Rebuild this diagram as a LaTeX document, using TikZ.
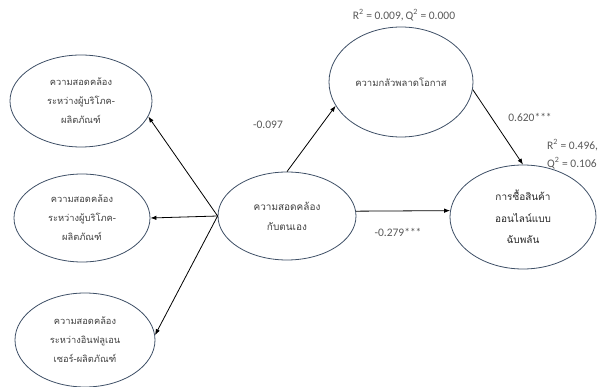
\documentclass[tikz,border=0pt]{standalone}
\usepackage{fontspec}
\setmainfont{Carlito}
\newfontfamily\thaifont[Script=Thai]{Loma}
\usetikzlibrary{shapes.geometric,arrows.meta}
\definecolor{rim}{HTML}{3E4F66}
\definecolor{ink}{HTML}{404040}
\definecolor{note}{HTML}{595959}
\tikzset{
    latent/.style={ellipse, draw=rim, line width=0.8pt, inner sep=0pt, align=center, text=ink,
        font=\thaifont\fontsize{9.3}{19}\selectfont},
    coef/.style={inner sep=0pt, text=note, font=\fontsize{11.5}{14}\selectfont},
    arr/.style={-{Latex[length=6pt,width=4.5pt]}, line width=0.8pt}
}

\begin{document}
\begin{tikzpicture}[x=1pt, y=-1pt]
  \useasboundingbox (0,0) rectangle (602,387);

  \node[latent, minimum width=142pt, minimum height=92pt] (l1) at (81,101) {ความสอดคล้อง\\ระหว่างผู้บริโภค-\\ผลิตภัณฑ์};
  \node[latent, minimum width=136pt, minimum height=88pt] (l2) at (82,218) {ความสอดคล้อง\\ระหว่างผู้บริโภค-\\ผลิตภัณฑ์};
  \node[latent, minimum width=140pt, minimum height=94pt] (l3) at (85,340) {ความสอดคล้อง\\ระหว่างอินฟลูเอน\\เซอร์-ผลิตภัณฑ์};

  \node[latent, minimum width=138pt, minimum height=88pt, font=\thaifont\fontsize{10}{20}\selectfont] (c) at (287,216) {ความสอดคล้อง\\กับตนเอง};
  \node[latent, minimum width=144pt, minimum height=110pt, font=\thaifont\fontsize{9.5}{12}\selectfont] (f) at (401,82) {ความกลัวพลาดโอกาส};
  \node[latent, minimum width=146pt, minimum height=104pt, text=black!85, font=\thaifont\fontsize{10}{21.5}\selectfont] (p) at (523,217) {การซื้อสินค้า\\ออนไลน์แบบ\\ฉับพลัน};

  \node[coef] (r1) at (404,15) {R\textsuperscript{2} = 0.009,\,Q\textsuperscript{2} = 0.000};
  \node[coef, anchor=west] (r2) at (547,145) {R\textsuperscript{2} = 0.496,};
  \node[coef, anchor=west] (q2) at (547,163) {Q\textsuperscript{2} = 0.106};

  \node[coef] (b1) at (268,125) {-0.097};
  \node[coef] (b2) at (530,117) {0.620***};
  \node[coef] (b3) at (398,232) {-0.279***};

  \draw[arr] (c.west) -- (l1.-13);
  \draw[arr] (c.west) -- (l2.east);
  \draw[arr] (c.west) -- (l3.4);
  \draw[arr] (c.north) -- (f.200);
  \draw[arr] (f.-6) -- (p.north);
  \draw[arr] (c.4) -- (p.175);

\end{tikzpicture}
\end{document}
